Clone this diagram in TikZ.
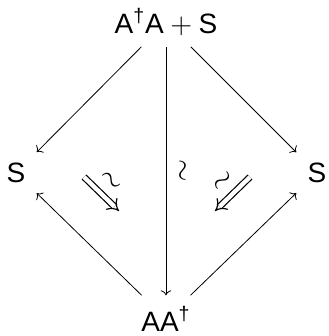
\documentclass[tikz,border=0pt]{standalone}
\usepackage{fontspec}
\setmainfont{Liberation Sans}
\usetikzlibrary{arrows.meta}

\begin{document}
\begin{tikzpicture}[x=0.5pt, y=-0.5pt, >={To}, obj/.style={font=\fontsize{14}{17}\selectfont, inner sep=5.5pt}, lbl/.style={font=\fontsize{14}{17}\selectfont, inner sep=4.5pt}, dbl/.style={double, double distance=2.2pt, line width=0.6pt, -{Implies}}]
                \useasboundingbox (0,0) rectangle (328,336);
                \node (top) [obj] at (166,22) {A\textsuperscript{\textdagger}A${}+{}$S};
                \node (ls) [obj] at (16,173) {S};
                \node (rs) [obj] at (317,173) {S};
                \node (bot) [obj] at (166,319) {AA\textsuperscript{\textdagger}};
                
                \draw[->] (top) -- (ls);
                \draw[->] (top) -- (rs);
                \draw[->] (top) -- (bot) node[lbl, midway, sloped, above] (mtil) {$\sim$};
                \draw[->] (bot) -- (ls);
                \draw[->] (bot) -- (rs);
                
                \coordinate (la) at (84,177);
                \coordinate (lb) at (119,211);
                \coordinate (ra) at (250,177);
                \coordinate (rb) at (215,211);
                \draw[dbl] (la) -- (lb) node[lbl, pos=0.45, sloped, above] (ltil) {$\sim$};
                \draw[dbl] (ra) -- (rb) node[lbl, pos=0.45, sloped, above] (rtil) {$\sim$};
            \end{tikzpicture}
\end{document}
